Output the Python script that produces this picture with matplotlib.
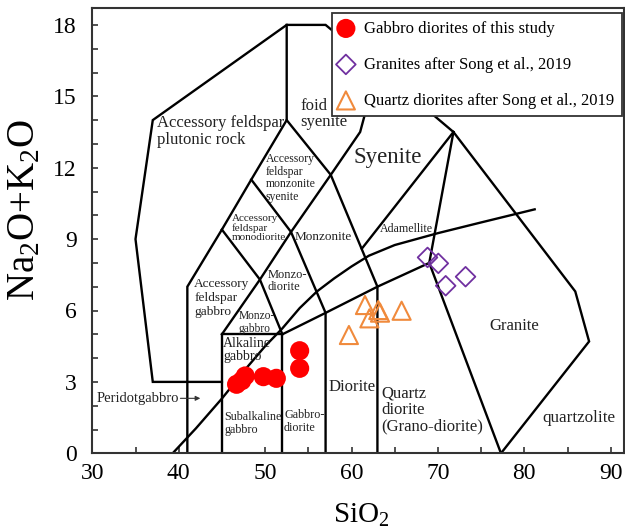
import matplotlib
matplotlib.use("Agg")
import matplotlib.pyplot as plt

plt.rcParams['font.family'] = ['Liberation Serif', 'DejaVu Serif']
plt.rcParams['mathtext.fontset'] = 'custom'
plt.rcParams['mathtext.rm'] = 'Liberation Serif'
plt.rcParams['mathtext.it'] = 'Liberation Serif:italic'

# ---- data ----
gabbro_sio2 = [46.7, 47.3, 47.7, 49.8, 51.3, 54.0, 54.0]
gabbro_alk = [2.9, 3.05, 3.25, 3.22, 3.15, 4.31, 3.57]

granite_sio2 = [68.8, 70.05, 70.9, 73.2]
granite_alk = [8.23, 7.98, 7.04, 7.42]

qdiorite_sio2 = [61.56, 63.1, 63.3, 62.07, 65.8, 59.7]
qdiorite_alk = [6.23, 6.02, 5.91, 5.67, 5.99, 4.97]

# field boundaries (Middlemost 1994, plutonic)
boundaries = [
    [(45, 3), (37, 3), (35, 9), (37, 14), (52.5, 18), (57, 18), (63, 16.2),
     (71.8, 13.5), (85.9, 6.8), (87.5, 4.7), (77.3, 0)],
    [(41, 0), (41, 7), (45, 9.4), (48.4, 11.5), (52.5, 14), (52.5, 18)],
    [(45, 0), (45, 5), (52, 5), (52, 0)],
    [(45, 5), (49.4, 7.3), (53, 9.3), (57.6, 11.7), (61, 13.5), (63, 16.2)],
    [(52, 5), (49.4, 7.3), (45, 9.4)],
    [(48.4, 11.5), (53, 9.3), (57, 5.9), (57, 0)],
    [(52.5, 14), (57.6, 11.7), (63, 7), (63, 0)],
    [(52, 5), (57, 5.9), (63, 7), (69, 8), (77.3, 0)],
    [(69, 8), (71.8, 13.5)],
    [(61.2, 8.6), (71.8, 13.5)],
]
# alkaline / subalkaline dividing curve
alk_curve = [(39.3, 0), (42, 1.05), (45, 2.3), (48, 3.65), (50, 4.5), (52, 5.25),
             (54, 6.1), (56, 6.8), (58, 7.35), (60, 7.85), (62, 8.3), (65, 8.75),
             (70, 9.25), (75, 9.7), (81.2, 10.25)]

field_labels = [
    ("Accessory feldspar\nplutonic rock", 37.45, 13.51, 12, 1.05),
    ("foid\nsyenite", 54.04, 14.26, 12, 1.05),
    ("Syenite", 64.17, 12.41, 16.5, 1.0, 'center'),
    ("Accessory\nfeldspar\nmonzonite\nsyenite", 50.1, 11.57, 8.5, 1.05),
    ("Accessory\nfeldspar\nmonodiorite", 46.13, 9.47, 8, 1.05),
    ("Monzonite", 53.45, 9.09, 9.5, 1.0),
    ("Adamellite", 63.3, 9.42, 8.6, 1.0),
    ("Monzo-\ndiorite", 50.3, 7.24, 9, 1.05),
    ("Accessory\nfeldspar\ngabbro", 41.8, 6.53, 9.6, 1.2),
    ("Monzo-\ngabbro", 46.9, 5.5, 8.3, 1.05),
    ("Alkaline\ngabbro", 45.16, 4.35, 10, 1.05),
    ("Subalkaline\ngabbro", 45.27, 1.26, 8.7, 1.05),
    ("Gabbro-\ndiorite", 52.2, 1.34, 8.7, 1.05),
    ("Diorite", 57.3, 2.77, 12, 1.0),
    ("Quartz\ndiorite\n(Grano-diorite)", 63.5, 1.82, 12, 1.05),
    ("Granite", 76.0, 5.35, 12, 1.0),
    ("quartzolite", 82.1, 1.47, 12.3, 1.0),
    ("Peridotgabbro", 30.5, 2.31, 10.5, 1.0),
]

x_ticks = [30, 40, 50, 60, 70, 80, 90]
y_ticks = [0, 3, 6, 9, 12, 15, 18]

# ---- figure ----
W, H = 625, 530
fig = plt.figure(figsize=(W / 100, H / 100), dpi=100)
L, R, B, T = 92.3, 624.0, 453.3, 8.0
ax = fig.add_axes([L / W, 1 - B / H, (R - L) / W, (B - T) / H])
xmax = 30 + (R - L) / 8.64
ymax = (B - T) / 23.8
ax.set_xlim(30, xmax)
ax.set_ylim(0, ymax)

for seg in boundaries:
    xs, ys = zip(*seg)
    ax.plot(xs, ys, color='black', lw=1.7, solid_joinstyle='miter', zorder=2)
cx, cy = zip(*alk_curve)
ax.plot(cx, cy, color='black', lw=1.7, zorder=2)

for item in field_labels:
    txt, x, y, fs, ls = item[:5]
    ha = item[5] if len(item) > 5 else 'left'
    ax.text(x, y, txt, fontsize=fs, ha=ha, va='center', color='#222222',
            linespacing=ls, zorder=3)

ax.annotate("", xy=(42.5, 2.31), xytext=(40.2, 2.31),
            arrowprops=dict(arrowstyle='-|>', color='#333333', lw=0.8,
                            mutation_scale=7, shrinkA=0, shrinkB=0))

ax.scatter(gabbro_sio2, gabbro_alk, s=190, color='#FF0000', edgecolors='none',
           zorder=5, label='Gabbro diorites of this study')
ax.scatter(granite_sio2, granite_alk, s=100, marker='D', facecolors='none',
           edgecolors='#7030A0', linewidths=1.3, zorder=5,
           label='Granites after Song et al., 2019')
ax.scatter(qdiorite_sio2, qdiorite_alk, s=170, marker='^', facecolors='none',
           edgecolors='#F08A3C', linewidths=1.5, zorder=5,
           label='Quartz diorites after Song et al., 2019')

ax.set_xticks(x_ticks)
ax.set_xticks(range(35, 92, 5), minor=True)
ax.set_yticks(y_ticks)
ax.set_yticks(range(0, 19), minor=True)
ax.tick_params(which='both', direction='in', length=4, width=1.2, colors='#333333',
               labelcolor='black', labelsize=17)
ax.tick_params(axis='y', pad=11)
ax.tick_params(axis='x', pad=7)
for s in ['left', 'bottom', 'top', 'right']:
    ax.spines[s].set_linewidth(1.5)
    ax.spines[s].set_color('#333333')

leg = ax.legend(loc='upper left', bbox_to_anchor=((331.7 - L) / (R - L), (B - 13.3) / (B - T)),
                borderaxespad=0, fontsize=12, frameon=True, fancybox=False,
                labelspacing=1.2, handletextpad=0.7, borderpad=0.45,
                handlelength=0.8, scatterpoints=1)
leg.get_frame().set_edgecolor('#333333')
leg.get_frame().set_linewidth(1.3)
leg.get_frame().set_alpha(1)

fig.text(361 / W, 1 - 515 / H, 'SiO$_2$', fontsize=21, ha='center', va='center')
fig.text(25 / W, 1 - 210 / H, 'Na$_2$O+K$_2$O', fontsize=28, ha='center', va='center',
         rotation=90)

fig.savefig('out.png', dpi=100)
